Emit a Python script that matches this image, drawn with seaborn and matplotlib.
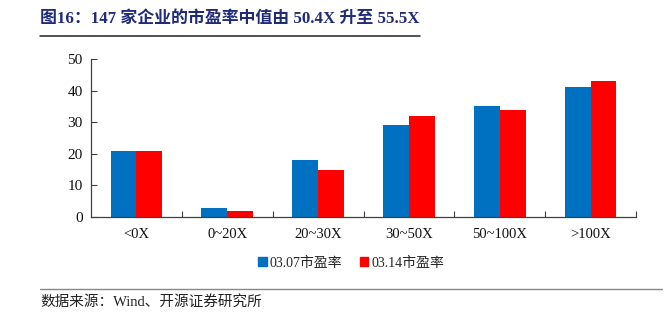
import matplotlib
matplotlib.use("Agg")
import matplotlib.pyplot as plt
import matplotlib.patches as mpatches
from matplotlib.lines import Line2D
import seaborn as sns
import pandas as pd

categories = ["<0X", "0~20X", "20~30X", "30~50X", "50~100X", ">100X"]
series_names = ["03.07市盈率", "03.14市盈率"]
pe_0307 = [21, 3, 18, 29, 35, 41]
pe_0314 = [21, 2, 15, 32, 34, 43]
colors = ["#0070C0", "#FF0000"]

df = pd.DataFrame({
    "cat": categories * 2,
    "series": [series_names[0]] * len(categories) + [series_names[1]] * len(categories),
    "val": pe_0307 + pe_0314,
})

sns.set_theme(style="white")
plt.rcParams["font.family"] = ["Liberation Serif", "Noto Sans CJK SC"]

fig = plt.figure(figsize=(6.7, 3.22), dpi=100)
ax = fig.add_axes([91 / 670, 1 - 217 / 322, (636 - 91) / 670, (217 - 59) / 322])

sns.barplot(data=df, x="cat", y="val", hue="series", order=categories,
            hue_order=series_names, palette=colors, width=0.57, ax=ax,
            legend=False, saturation=1, linewidth=0)

ax.set_ylim(0, 50)
ax.set_yticks([0, 10, 20, 30, 40, 50])
ax.set_xlim(-0.5, len(categories) - 0.5)
ax.set_xlabel("")
ax.set_ylabel("")
for s in ["top", "right"]:
    ax.spines[s].set_visible(False)
for s in ["left", "bottom"]:
    ax.spines[s].set_color("#404040")
    ax.spines[s].set_linewidth(0.9)
ax.tick_params(axis="y", direction="in", length=4, width=0.8, color="#404040",
               labelsize=11, pad=6, left=True)
ax.tick_params(axis="x", which="major", length=0, labelsize=10.5, pad=8)
ax.set_xticks([i + 0.5 for i in range(len(categories))], minor=True)
ax.tick_params(axis="x", which="minor", direction="in", length=4, width=0.8,
               color="#404040", bottom=True)
for lab in ax.get_yticklabels() + ax.get_xticklabels():
    lab.set_color("#111111")

handles = [mpatches.Patch(color=c, label=n) for c, n in zip(colors, series_names)]
fig.legend(handles=handles, loc="center", bbox_to_anchor=(351 / 670, 1 - 263 / 322),
           ncol=2, frameon=False, fontsize=10, handlelength=0.6, handleheight=0.6,
           handletextpad=0.2, columnspacing=1.3)

fig.text(40 / 670, 1 - 19 / 322, "图16：147 家企业的市盈率中值由 50.4X 升至 55.5X",
         fontsize=12.2, fontweight="bold", color="#1F2A78", va="center", ha="left")
fig.add_artist(Line2D([40 / 670, 420 / 670], [1 - 36 / 322, 1 - 36 / 322],
                      color="#222222", lw=1.1, transform=fig.transFigure))
fig.add_artist(Line2D([40 / 670, 662 / 670], [1 - 289 / 322, 1 - 289 / 322],
                      color="#888888", lw=1.0, transform=fig.transFigure))
fig.text(40 / 670, 1 - 302 / 322, "数据来源：Wind、开源证券研究所",
         fontsize=10.5, color="#222222", va="center", ha="left")

fig.savefig("out.png", dpi=100)
